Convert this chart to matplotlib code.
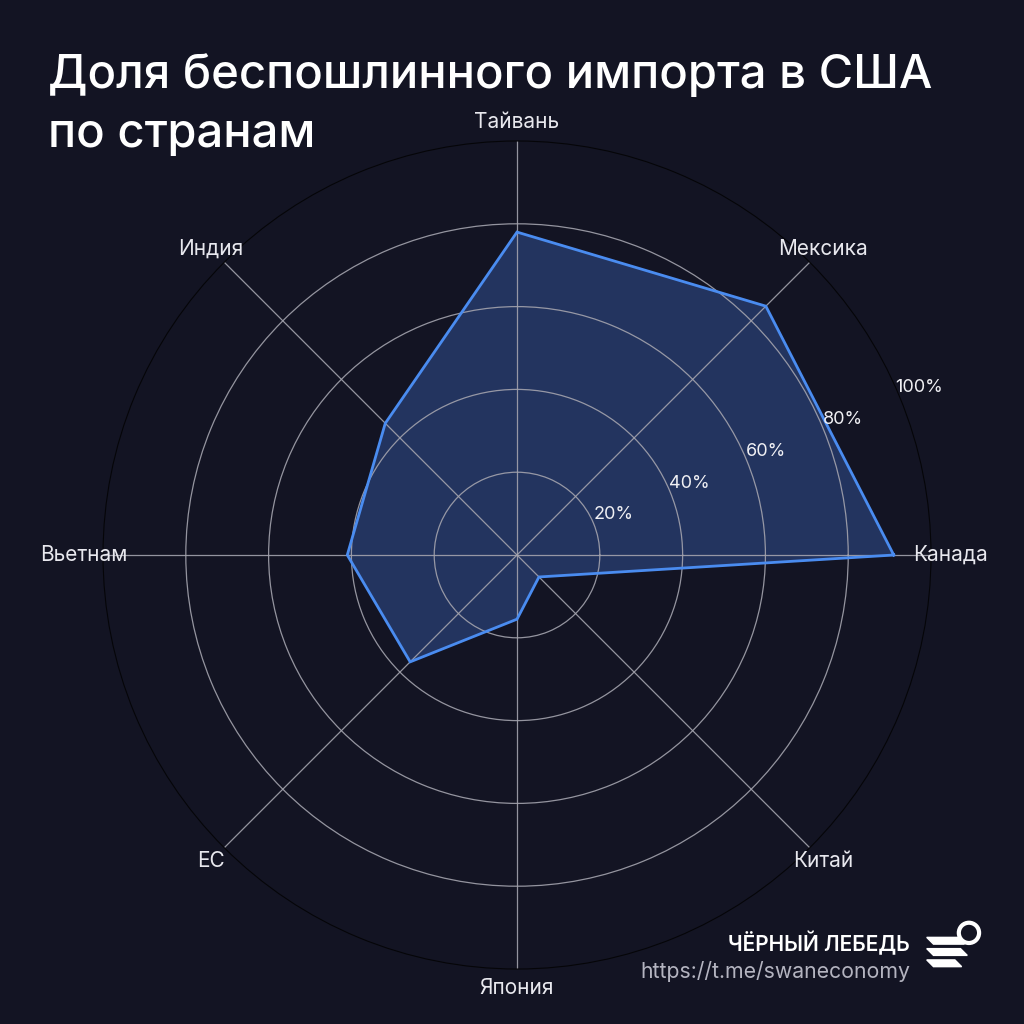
import numpy as np
import matplotlib
matplotlib.use("Agg")
import matplotlib.pyplot as plt
from matplotlib.patches import Polygon

countries = ["Канада", "Мексика", "Тайвань", "Индия", "Вьетнам", "ЕС", "Япония", "Китай"]
duty_free_share = [91, 85, 78, 45, 41, 36.5, 15.5, 7.5]
r_ticks = [20, 40, 60, 80, 100]
r_tick_labels = ["20%", "40%", "60%", "80%", "100%"]
title_lines = ["Доля беспошлинного импорта в США", "по странам"]
brand = "ЧЁРНЫЙ ЛЕБЕДЬ"
url = "https://t.me/swaneconomy"

BG = "#131423"
FILL = "#23345f"
LINE = "#4a8cf0"
GRID = "#a3a3ad"

plt.rcParams['font.family'] = ['Inter', 'DejaVu Sans']

fig = plt.figure(figsize=(10.24, 10.24), dpi=100, facecolor=BG)
ax = fig.add_axes([0.1006, 0.0537, 0.8086, 0.8086], projection='polar')
ax.set_facecolor(BG)

n = len(countries)
angles = np.linspace(0, 2 * np.pi, n, endpoint=False)
a_closed = np.concatenate([angles, angles[:1]])
v_closed = np.array(duty_free_share + duty_free_share[:1])

ax.fill(a_closed, v_closed, color=FILL, zorder=1)
ax.plot(a_closed, v_closed, color=LINE, lw=2.0, zorder=3, solid_joinstyle='miter')

ax.set_ylim(0, 100)
ax.set_yticks(r_ticks[:-1])
ax.set_yticklabels([])
ax.set_xticks(angles)
ax.set_xticklabels([])
ax.grid(True, color=GRID, lw=0.9, alpha=0.9)
ax.spines['polar'].set_color('#050508')
ax.spines['polar'].set_linewidth(0.8)
ax.tick_params(length=0)

for a, name in zip(angles, countries):
    ax.text(a, 104.6, name, ha='center', va='center', color='#e8e8ee', fontsize=15)

lab_ang = np.deg2rad(22.6)
for r, lab in zip(r_ticks, r_tick_labels):
    ax.text(lab_ang, r + 5.2, lab, ha='center', va='center', color='#f0f0f4', fontsize=13, zorder=5)

fig.text(0.047, 1 - 88 / 1024, title_lines[0], ha='left', va='baseline', color='white',
         fontsize=34, fontweight='medium')
fig.text(0.047, 1 - 147 / 1024, title_lines[1], ha='left', va='baseline', color='white',
         fontsize=34, fontweight='medium')

fig.text(0.888, 0.079, brand, ha='right', va='center', color='white', fontsize=15, fontweight='semibold')
fig.text(0.889, 0.051, url, ha='right', va='center', color='#b4b4c0', fontsize=15.3)

# simple logo mark
lx, ly = 0.905, 0.045
s = 0.055
for i, (dy, w) in enumerate([(0.72, 0.55), (0.52, 0.6), (0.32, 0.5)]):
    poly = Polygon([[lx + 0.0 * s, ly + dy * s], [lx + w * s, ly + dy * s],
                    [lx + (w + 0.12) * s, ly + (dy - 0.12) * s], [lx + 0.12 * s, ly + (dy - 0.12) * s]],
                   closed=True, transform=fig.transFigure, color='white')
    fig.patches.append(poly)
circ = plt.Circle((lx + 0.75 * s, ly + 0.8 * s), 0.18 * s, transform=fig.transFigure,
                  fill=False, ec='white', lw=3)
fig.patches.append(circ)

fig.savefig("out.png", dpi=100, facecolor=BG)
